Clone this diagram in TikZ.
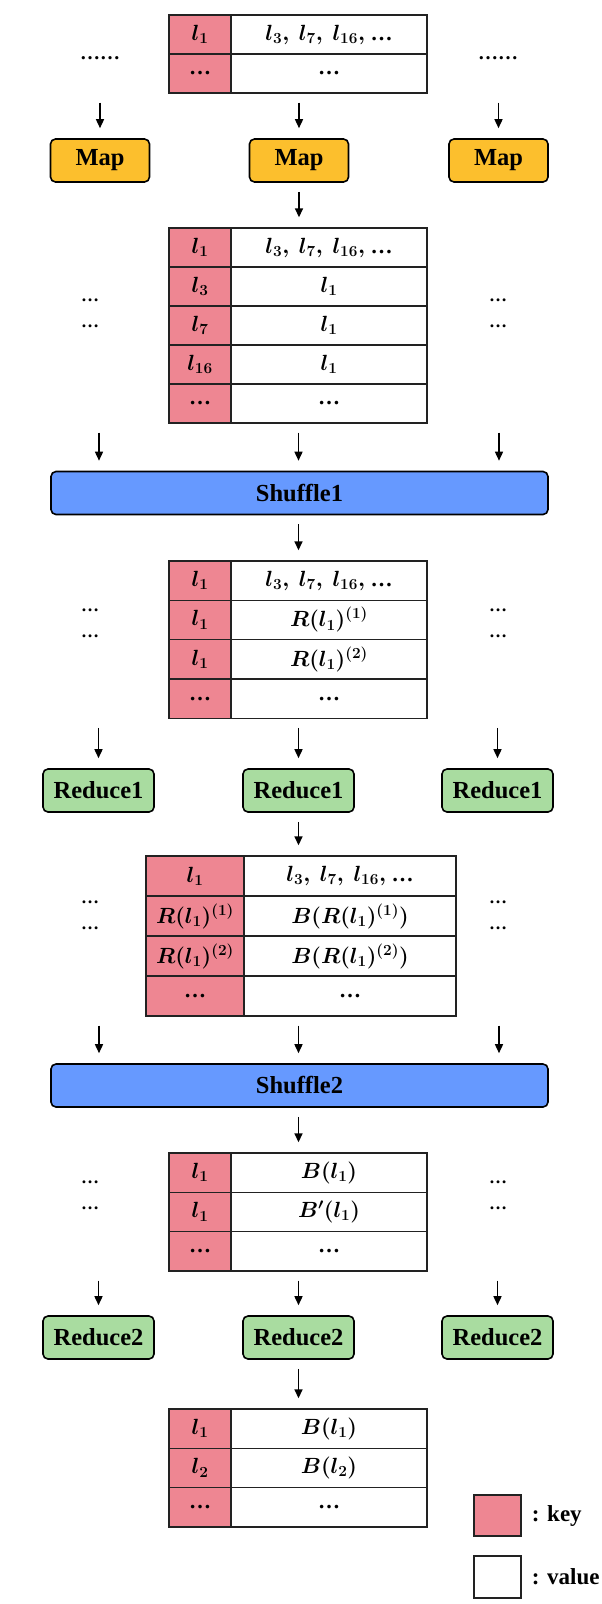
\documentclass[tikz,border=0pt]{standalone}
\usepackage{fix-cm}
\usepackage[no-math]{fontspec}
\setmainfont{Liberation Serif}
\usetikzlibrary{arrows.meta,positioning}
\definecolor{KeyPink}{HTML}{EE8692}
\definecolor{MapOrange}{HTML}{FCBF2D}
\definecolor{ShufBlue}{HTML}{6699FF}
\definecolor{RedGreen}{HTML}{A9DCA0}
\definecolor{CellLine}{HTML}{222222}

\begin{document}
\begin{tikzpicture}[x=1pt, y=1pt,
    cell/.style={draw=CellLine, line width=1.4pt, inner sep=0pt, minimum height=39.3,
      font=\bfseries\fontsize{22}{24}\selectfont\boldmath},
    keycell/.style={cell, fill=KeyPink, minimum width=62},
    valcell/.style={cell, fill=white, minimum width=196},
    task/.style={draw, line width=1.6pt, rounded corners=5pt, minimum height=43, inner sep=0pt,
      font=\bfseries\fontsize{24.5}{26}\selectfont},
    mapbox/.style={task, fill=MapOrange, minimum width=99},
    redbox/.style={task, fill=RedGreen, minimum width=111},
    shufbox/.style={task, fill=ShufBlue, minimum width=497},
    dots/.style={inner sep=0pt, anchor=base, font=\bfseries\fontsize{18}{18}\selectfont},
    arr/.style={-{Triangle[length=9pt,width=8pt]}, line width=1.5pt, shorten <=9pt, shorten >=10pt}]
  \useasboundingbox (0,0) rectangle (602,-1604);

  \coordinate (colL) at (99,0);
  \coordinate (colM) at (298.5,0);
  \coordinate (colR) at (499,0);

  % input records
  \foreach \i/\k/\v in {1/{$l_1$}/{$l_3,\ l_7,\ l_{16},\ $…}, 2/…/…} {
    \node[keycell, minimum height=39] (t1k\i) at (200,{-15-39*(\i-0.5)}) {\k};
    \node[valcell, minimum height=39] (t1v\i) at (329,{-15-39*(\i-0.5)}) {\v};
  }
  \node[dots, font=\bfseries\fontsize{20}{20}\selectfont] (dL1) at (100,-59) {……};
  \node[dots, font=\bfseries\fontsize{20}{20}\selectfont] (dR1) at (498,-59) {……};

  % map
  \foreach \p/\x in {L/100,M/299,R/498.5}
    \node[mapbox] (map\p) at (\x,-160.5) {Map};

  \foreach \i/\k/\v in {1/{$l_1$}/{$l_3,\ l_7,\ l_{16},\ $…}, 2/{$l_3$}/{$l_1$},
      3/{$l_7$}/{$l_1$}, 4/{$l_{16}$}/{$l_1$}, 5/…/…} {
    \node[keycell, minimum height=39] (t2k\i) at (200,{-228-39*(\i-0.5)}) {\k};
    \node[valcell, minimum height=39] (t2v\i) at (329,{-228-39*(\i-0.5)}) {\v};
  }

  % shuffle 1
  \node[shufbox] (shufA) at (299.5,-493) {Shuffle1};

  \foreach \i/\k/\v in {1/{$l_1$}/{$l_3,\ l_7,\ l_{16},\ $…}, 2/{$l_1$}/{$R(l_1)^{(1)}$},
      3/{$l_1$}/{$R(l_1)^{(2)}$}, 4/…/…} {
    \node[keycell] (t3k\i) at (200,{-561-39.3*(\i-0.5)}) {\k};
    \node[valcell] (t3v\i) at (329,{-561-39.3*(\i-0.5)}) {\v};
  }

  % reduce 1
  \foreach \p/\x in {L/98.5,M/298.5,R/497.5}
    \node[redbox] (redA\p) at (\x,-790.5) {Reduce1};

  \foreach \i/\k/\v in {1/{$l_1$}/{$l_3,\ l_7,\ l_{16},\ $…},
      2/{$R(l_1)^{(1)}$}/{$B(R(l_1)^{(1)})$},
      3/{$R(l_1)^{(2)}$}/{$B(R(l_1)^{(2)})$}, 4/…/…} {
    \node[keycell, minimum width=98, minimum height=40] (t4k\i) at (195,{-856-40*(\i-0.5)}) {\k};
    \node[valcell, minimum width=212, minimum height=40] (t4v\i) at (350,{-856-40*(\i-0.5)}) {\v};
  }

  % shuffle 2
  \node[shufbox] (shufB) at (299.5,-1085.5) {Shuffle2};

  \foreach \i/\k/\v in {1/{$l_1$}/{$B(l_1)$}, 2/{$l_1$}/{$B'(l_1)$}, 3/…/…} {
    \node[keycell] (t5k\i) at (200,{-1153-39.3*(\i-0.5)}) {\k};
    \node[valcell] (t5v\i) at (329,{-1153-39.3*(\i-0.5)}) {\v};
  }

  % reduce 2
  \foreach \p/\x in {L/98.5,M/298.5,R/497.5}
    \node[redbox] (redB\p) at (\x,-1337.5) {Reduce2};

  \foreach \i/\k/\v in {1/{$l_1$}/{$B(l_1)$}, 2/{$l_2$}/{$B(l_2)$}, 3/…/…} {
    \node[keycell] (t6k\i) at (200,{-1409-39.3*(\i-0.5)}) {\k};
    \node[valcell] (t6v\i) at (329,{-1409-39.3*(\i-0.5)}) {\v};
  }

  % other partitions
  \foreach \n/\ya/\yb in {2/301/327, 3/611/637, 4/903/929, 5/1183/1209} {
    \node[dots] (dL\n a) at (90,-\ya) {…};
    \node[dots] (dL\n b) at (90,-\yb) {…};
    \node[dots] (dR\n a) at (498,-\ya) {…};
    \node[dots] (dR\n b) at (498,-\yb) {…};
  }

  % arrows
  \foreach \p in {L,M,R}
    \draw[arr] (map\p.north |- t1k2.south) -- (map\p.north);
  \draw[arr] (mapM.south) -- (mapM.south |- t2k1.north);
  \foreach \p in {L,M,R}
    \draw[arr] (col\p |- t2k5.south) -- (col\p |- shufA.north);
  \draw[arr] (shufA.south -| colM) -- (colM |- t3k1.north);
  \foreach \p in {L,M,R}
    \draw[arr] (redA\p.north |- t3k4.south) -- (redA\p.north);
  \draw[arr] (redAM.south) -- (redAM.south |- t4k1.north);
  \foreach \p in {L,M,R}
    \draw[arr] (col\p |- t4k4.south) -- (col\p |- shufB.north);
  \draw[arr] (shufB.south -| colM) -- (colM |- t5k1.north);
  \foreach \p in {L,M,R}
    \draw[arr] (redB\p.north |- t5k3.south) -- (redB\p.north);
  \draw[arr] (redBM.south) -- (redBM.south |- t6k1.north);

  % legend
  \node[keycell, minimum width=47, minimum height=41] (legKey) at (497.5,-1515.5) {};
  \node[right=10pt of legKey, inner sep=0pt, font=\bfseries\fontsize{23}{24}\selectfont] (legKeyTxt) {: key};
  \node[valcell, minimum width=47, minimum height=42] (legVal) at (497.5,-1577) {};
  \node[right=10pt of legVal, inner sep=0pt, font=\bfseries\fontsize{23}{24}\selectfont] (legValTxt) {: value};
\end{tikzpicture}
\end{document}
